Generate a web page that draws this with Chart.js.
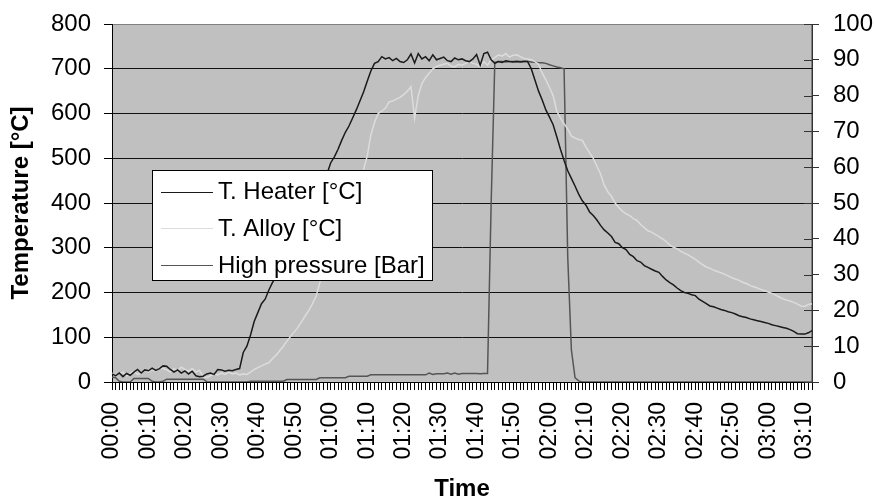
<!DOCTYPE html>
<html>
<head>
<meta charset="utf-8">
<script src="https://cdn.jsdelivr.net/npm/chart.js@4.4.1/dist/chart.umd.min.js"></script>
<style>
  html, body { margin: 0; padding: 0; background: #fff; }
  #wrap { width: 874px; height: 501px; }
</style>
</head>
<body>
<div id="wrap"><canvas id="chart" width="874" height="501"></canvas></div>
<script>
// ---- data: one sample per minute, 00:00 .. 03:12 ----
const timeLabels = [];
for (let m = 0; m <= 192; m++) {
  const h = String(Math.floor(m / 60)).padStart(2, '0');
  const mm = String(m % 60).padStart(2, '0');
  timeLabels.push(h + ':' + mm);
}

const heaterTemp = [
  18, 14, 20, 12, 19, 15, 22, 28, 20, 27,
  25, 31, 26, 30, 36, 35, 28, 22, 27, 20,
  25, 18, 24, 14, 12, 13, 18, 20, 17, 28,
  27, 24, 26, 25, 28, 30, 66, 80, 105, 135,
  155, 175, 185, 205, 222, 235, 250, 268, 285, 300,
  318, 335, 352, 370, 388, 405, 420, 436, 452, 466,
  490, 503, 520, 540, 558, 572, 590, 608, 628, 648,
  672, 695, 712, 716, 727, 722, 725, 718, 723, 716,
  714, 720, 733, 713, 734, 722, 727, 718, 731, 720,
  723, 726, 718, 716, 724, 720, 722, 718, 716, 722,
  732, 708, 734, 737, 720, 712, 716, 714, 718, 716,
  715, 716, 715, 716, 716, 700, 675, 650, 630, 608,
  592, 575, 548, 520, 495, 472, 455, 438, 420, 405,
  395, 380, 372, 362, 350, 340, 333, 325, 312, 309,
  300, 296, 285, 280, 271, 268, 260, 256, 252, 248,
  245, 236, 228, 222, 217, 210, 204, 200, 198, 195,
  193, 185, 180, 175, 170, 168, 165, 162, 160, 157,
  155, 152, 148, 146, 144, 141, 139, 137, 135, 133,
  131, 128, 126, 124, 122, 120, 117, 113, 108, 107,
  107, 110, 115
];

const alloyTemp = [
  20, 15, 18, 22, 14, 19, 24, 17, 20, 26,
  22, 28, 24, 32, 30, 27, 22, 30, 25, 33,
  28, 24, 30, 22, 26, 12, 10, 14, 18, 16,
  20, 17, 22, 18, 20, 16, 18, 17, 22, 28,
  32, 36, 40, 43, 52, 60, 70, 80, 92, 102,
  112, 122, 135, 148, 160, 175, 192, 222, 245, 265,
  285, 305, 325, 345, 365, 385, 405, 428, 452, 475,
  505, 552, 580, 600, 605, 612, 626, 628, 632, 636,
  642, 650, 660, 590, 640, 667, 680, 690, 700, 705,
  708, 710, 712, 706, 704, 710, 708, 712, 716, 712,
  710, 704, 716, 708, 720, 725, 731, 728, 734, 726,
  730, 731, 727, 723, 722, 720, 716, 710, 690, 675,
  658, 640, 605, 590, 577, 565, 550, 545, 542, 540,
  525, 512, 500, 482, 465, 440, 425, 415, 400, 390,
  382, 376, 372, 365, 361, 352, 345, 338, 335, 330,
  325, 320, 314, 306, 301, 298, 292, 288, 284, 279,
  274, 268, 262, 257, 254, 250, 247, 244, 241, 237,
  233, 230, 227, 223, 220, 216, 213, 210, 207, 204,
  201, 198, 194, 190, 186, 183, 181, 178, 174, 170,
  169, 173, 175
];

const highPressure = [
  1.4, 1.2, 0.2, 0, 0, 0, 1.0, 1.0, 1.0, 1.0,
  1.0, 0.2, 0, 0, 0.2, 0.8, 0.8, 0.8, 0.8, 0.8,
  0.8, 0.8, 0.8, 0.8, 0.8, 0.8, 0.1, 0, 0, 0,
  0, 0, 0, 0, 0, 0, 0, 0, 0.2, 0.2,
  0.2, 0.2, 0.2, 0.2, 0.2, 0.2, 0.2, 0.2, 0.7, 0.7,
  0.7, 0.7, 0.7, 0.7, 0.7, 0.7, 0.7, 1.2, 1.2, 1.2,
  1.2, 1.2, 1.2, 1.2, 1.2, 1.6, 1.6, 1.6, 1.6, 1.6,
  1.6, 2.0, 2.0, 2.0, 2.0, 2.0, 2.0, 2.0, 2.0, 2.0,
  2.0, 2.0, 2.0, 2.0, 2.0, 2.0, 2.0, 2.5, 2.1, 2.3,
  2.3, 2.3, 2.5, 2.2, 2.5, 2.2, 2.4, 2.4, 2.4, 2.4,
  2.4, 2.3, 2.4, 2.4, 50, 89.3, 89.5, 89.5, 89.4, 89.5,
  89.5, 89.6, 89.5, 89.6, 89.5, 89.4, 89.3, 89.2, 89.2, 89.0,
  88.6, 88.3, 88.0, 87.8, 87.5, 35, 9, 1.2, 0.3, 0,
  0, 0, 0, 0, 0, 0, 0, 0, 0, 0,
  0, 0, 0, 0, 0, 0, 0, 0, 0, 0,
  0, 0, 0, 0, 0, 0, 0, 0, 0, 0,
  0, 0, 0, 0, 0, 0, 0, 0, 0, 0,
  0, 0, 0, 0, 0, 0, 0, 0, 0, 0,
  0, 0, 0, 0, 0, 0, 0, 0, 0, 0,
  0, 0, 0
];

const seriesNames = ['T. Heater [°C]', 'T. Alloy [°C]', 'High pressure [Bar]'];
const seriesColors = ['#1a1a1a', '#dcdcdc', '#555555'];

const FONT = "'Liberation Sans', Arial, sans-serif";
Chart.defaults.font.family = FONT;
Chart.defaults.color = '#000';

// grey plot area like the old spreadsheet charts
const plotBg = {
  id: 'plotBg',
  beforeDraw(chart) {
    const { ctx, chartArea: a } = chart;
    ctx.save();
    ctx.fillStyle = '#c0c0c0';
    ctx.fillRect(a.left, a.top, a.right - a.left, a.bottom - a.top);
    ctx.strokeStyle = '#808080';
    ctx.lineWidth = 1;
    ctx.strokeRect(a.left + 0.5, a.top + 0.5, a.right - a.left - 1, a.bottom - a.top);
    ctx.restore();
  }
};

// right axis ticks cross the axis line, draw the inner half
const crossTicks = {
  id: 'crossTicks',
  afterDatasetsDraw(chart) {
    const { ctx, chartArea: a } = chart;
    const s = chart.scales.y2;
    ctx.save();
    ctx.strokeStyle = '#333';
    ctx.lineWidth = 1;
    s.ticks.forEach(t => {
      const y = Math.round(s.getPixelForValue(t.value)) + 0.5;
      ctx.beginPath();
      ctx.moveTo(a.right - 8, y);
      ctx.lineTo(a.right, y);
      ctx.stroke();
    });
    ctx.restore();
  }
};

// boxed legend sitting inside the plot area
const boxLegend = {
  id: 'boxLegend',
  afterDraw(chart) {
    const { ctx } = chart;
    const x = 152.5, y = 170.5, w = 280, h = 110;
    ctx.save();
    ctx.fillStyle = '#fff';
    ctx.fillRect(x, y, w, h);
    ctx.strokeStyle = '#000';
    ctx.lineWidth = 1;
    ctx.strokeRect(x, y, w, h);
    ctx.font = '24px ' + FONT;
    ctx.textBaseline = 'middle';
    ctx.textAlign = 'left';
    seriesNames.forEach((name, i) => {
      const ry = 191.5 + i * 36.7;
      ctx.strokeStyle = seriesColors[i];
      ctx.beginPath();
      ctx.moveTo(161, Math.round(ry) + 0.5);
      ctx.lineTo(213, Math.round(ry) + 0.5);
      ctx.stroke();
      ctx.fillStyle = '#000';
      ctx.fillText(name, 218, ry + 1);
    });
    ctx.restore();
  }
};

// fixed axis box sizes; drop the label overflow padding so the plot area sits where it should
const fixWidth = w => s => { s.width = w; s.paddingTop = 0; s.paddingBottom = 0; };

const lineStyle = { pointRadius: 0, borderWidth: 1.5, tension: 0, fill: false };

new Chart(document.getElementById('chart'), {
  type: 'line',
  data: {
    labels: timeLabels,
    datasets: [
      { label: seriesNames[0], data: heaterTemp, borderColor: seriesColors[0], yAxisID: 'y', ...lineStyle },
      { label: seriesNames[1], data: alloyTemp, borderColor: seriesColors[1], yAxisID: 'y', ...lineStyle },
      { label: seriesNames[2], data: highPressure, borderColor: seriesColors[2], yAxisID: 'y2', ...lineStyle }
    ]
  },
  options: {
    responsive: false,
    animation: false,
    devicePixelRatio: 1,
    layout: { padding: { top: 24, left: 0, right: 0, bottom: 0 } },
    plugins: { legend: { display: false }, tooltip: { enabled: false } },
    scales: {
      x: {
        type: 'category',
        offset: false,
        grid: { drawOnChartArea: false, drawTicks: true, tickLength: 8, color: '#000' },
        border: { color: '#000' },
        ticks: {
          autoSkip: false,
          minRotation: 90,
          maxRotation: 90,
          padding: 12,
          color: '#000',
          font: { size: 23 },
          callback: (v, i) => (i % 10 === 0 ? timeLabels[i] : '')
        },
        title: { display: true, text: 'Time', color: '#000', font: { size: 24, weight: 'bold', lineHeight: 1 }, padding: 0 },
        afterFit: s => { s.height = 119; s.paddingLeft = 0; s.paddingRight = 0; }
      },
      y: {
        position: 'left',
        min: 0,
        max: 800,
        ticks: { stepSize: 100, padding: 13, color: '#000', font: { size: 24 } },
        grid: {
          color: c => (c.tick && c.tick.value === 800 ? '#808080' : '#111'),
          tickColor: '#000',
          tickLength: 8
        },
        border: { color: '#000' },
        title: { display: true, text: 'Temperature [°C]', color: '#000', font: { size: 24, weight: 'bold', lineHeight: 1.2 }, padding: { top: 7, bottom: 0 } },
        afterFit: fixWidth(112)
      },
      y2: {
        position: 'right',
        min: 0,
        max: 100,
        ticks: { stepSize: 10, padding: 14, color: '#000', font: { size: 24 } },
        grid: { drawOnChartArea: false, color: '#333', tickLength: 7 },
        border: { color: '#333' },
        afterFit: fixWidth(62)
      }
    }
  },
  plugins: [plotBg, crossTicks, boxLegend]
});
</script>
</body>
</html>
